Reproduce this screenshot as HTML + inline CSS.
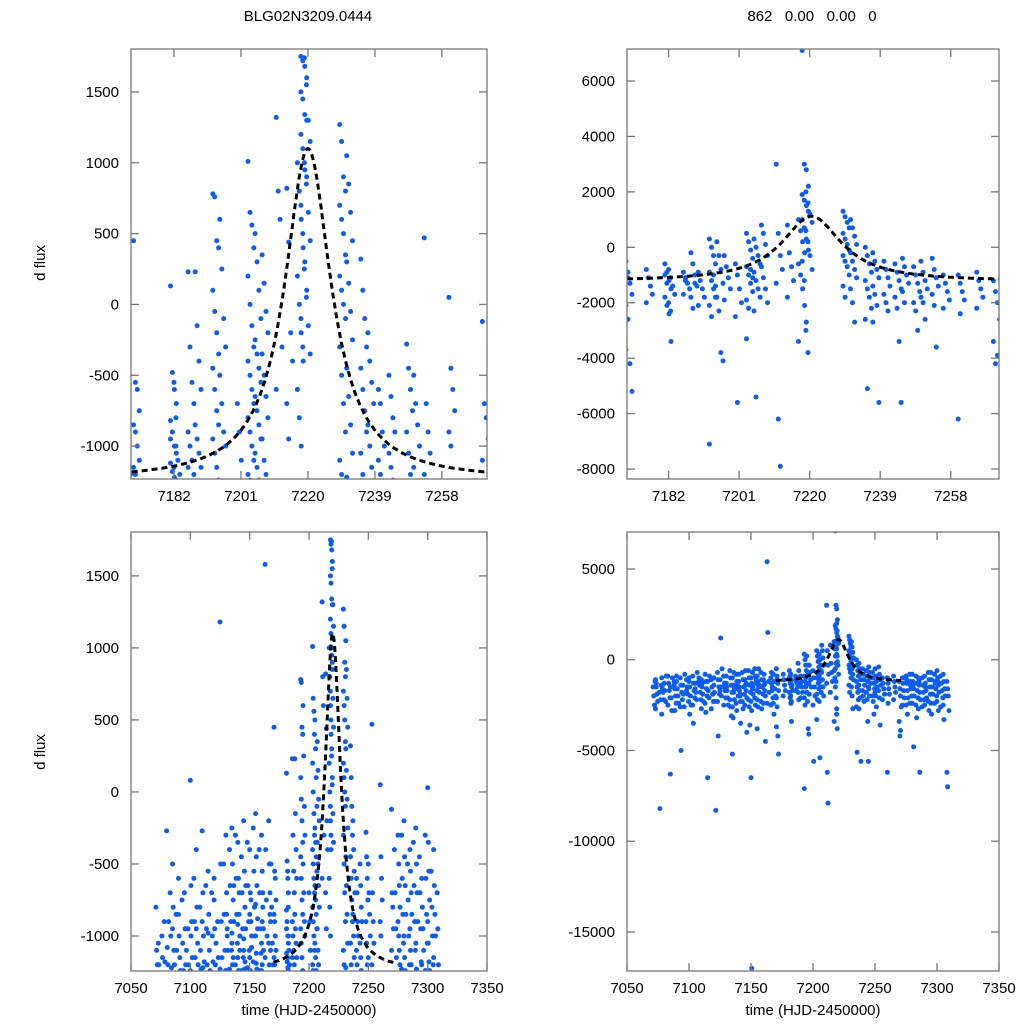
<!DOCTYPE html>
<html><head><meta charset="utf-8"><style>
html,body{margin:0;padding:0;background:#fff;}
svg{display:block;font-family:"Liberation Sans",sans-serif;}
</style></head><body>
<svg id="fig" width="1024" height="1024" viewBox="0 0 1024 1024">
<rect width="1024" height="1024" fill="#fff"/>
<text x="308" y="21" text-anchor="middle" font-size="15">BLG02N3209.0444</text>
<text x="812" y="21" text-anchor="middle" font-size="15" xml:space="preserve">862   0.00   0.00   0</text>
<text transform="translate(45,263) rotate(-90)" text-anchor="middle" font-size="15">d flux</text>
<text transform="translate(45,752) rotate(-90)" text-anchor="middle" font-size="15">d flux</text>
<text x="309" y="1015" text-anchor="middle" font-size="15">time (HJD-2450000)</text>
<text x="813" y="1015" text-anchor="middle" font-size="15">time (HJD-2450000)</text>
</svg>
<script>
// observation nights (HJD-2450000)
const nights = [7071,7076,7080,7085,7090,7095,7100,7105,7110,7115,7120,7125,7130,7135,7140,7145,7150,7155,7160,7163,7166,7170.5,7181,7182,7186,7188,7193,7195,7200,7203,7205,7207,7211,7214,7217,7218,7219,7229,7231,7235,7237,7240,7243,7248,7250,7253,7260,7269.5,7275,7280,7285,7290,7295,7300,7305,7308,
7073,7078,7083,7088,7093,7098,7103,7108,7113,7118,7123,7128,7133,7138,7143,7148,7153,7158,7168,7176,7190,7197,7245,7256,7265,7272,7278,7283,7288,7293,7298,7303];
// left series d flux per night
const leftFlux = [
[-800,-1100,-1200],[-1000,-1150],[-270,-1080,-1200,-900],[-500,-800,-1100,-1200,-950],
[-600,-1000,-1150,-1240,-850],[-700,-950,-1200,-1100],[80,-650,-900,-1150,-1240,-1000],
[-400,-800,-1050,-1200,-950],[-270,-700,-1000,-1180,-900,-1220],[-550,-850,-1100,-1240,-980],
[-600,-950,-1200,-1050,-750],[1180,-500,-900,-1150,-1230],[-300,-700,-950,-1100,-1240,-850,-1000],
[-250,-500,-750,-900,-1050,-1200,-1150,-650,-980],[-350,-600,-850,-1000,-1150,-1240,-700,-1100,-920],
[-200,-550,-800,-950,-1100,-1230,-1180,-650,-1020],[-400,-700,-900,-1000,-1150,-1240,-750,-1080,-850],
[-150,-450,-650,-880,-1000,-1120,-1230,-950,-780,-1190],[-300,-550,-800,-950,-1050,-1200,-700,-1100,-1240,-900],
[1580,-400,-750,-1000,-1150],[-200,-500,-700,-900,-1050,-1200,-850,-1100],
[450,-550,-600,-750,-850,-900,-1000,-1100,-1150,-1200],
[130,-480,-600,-700,-820,-900,-1000,-1050,-1120,-1180,-1220,-1240,-950],
[-550,-800,-1100,-1200,-1150,-1000],[230,-300,-550,-700,-900,-1000,-1100,-1200,-1150],
[230,-150,-400,-600,-850,-950,-1050,-1150],
[780,760,450,400,100,-50,-200,-350,-450,-600,-750,-850,-950,-1050,-1150,-1240],
[600,250,-100,-300,-500,-700,-900,-1000],[-700,-900,-1100],
[1010,650,560,400,200,0,-150,-300,-400,-500,-600,-700,-800,-900,-1000,-1100,-1200,-1240],
[500,300,100,-100,-250,-350,-450,-550,-650,-750,-850,-950,-1050,-1150,-1240],
[350,150,-50,-200,-350,-500,-650,-800,-950,-1100,-1200],
[1320,800,600,-300,-600],[820,440,-200,-400,-700,-950],
[1000,800,600,400,200,0,-200,-400,-600,-800,-1000],
[1750,1720,1680,1600,1500,1450,1340,1300,1200,1100,950,900,700,500,300,100,-100,-300],
[1740,1550,1300,1150,1000,850,650,450,250,50,-150,-350],
[1270,1150,900,800,700,600,500,350,200,100,0,-100,-300,-500,-700,-900,-1100,-1200],
[1050,850,650,450,300,150,-50,-250,-450,-650,-850,-1050,-1220],
[320,100,-100,-300,-450,-600,-750,-900,-1050,-1200],
[-200,-400,-550,-700,-850,-1000,-1150],[-600,-700,-900,-1000,-1100,-1200],
[-500,-650,-800,-900,-1050,-1150,-1240],[-280,-450,-600,-750,-900,-1050,-1200],
[-500,-700,-850,-1000,-1150],[470,-700,-900,-1050,-1200],[50,-450,-600,-750,-900,-1000],
[-120,-700,-800,-950,-1100],[-300,-500,-650,-800,-900,-1000,-1100,-1200],
[-200,-450,-650,-850,-1000,-1150,-1240],[-400,-550,-700,-850,-950,-1100,-1200],
[-250,-500,-700,-900,-1050,-1230],[-600,-800,-950,-1100,-1200],
[30,-350,-550,-750,-900,-1050,-1180,-1240],[-400,-650,-850,-1000,-1150],[-700,-950,-1200],
[-1050,-1200],[-900,-1180],[-700,-1000,-1220],[-850,-1100],[-750,-1050,-1240],[-950,-1200],
[-600,-900,-1150],[-800,-1100,-1230],[-650,-950,-1200],[-700,-1000,-1180],[-900,-1150],[-500,-850,-1100,-1240],
[-400,-650,-900,-1100,-1230],[-300,-600,-850,-1050,-1200],[-450,-700,-950,-1150,-1240],[-350,-650,-900,-1100,-1220],
[-250,-550,-800,-1000,-1180],[-400,-700,-950,-1120,-1240],[-500,-800,-1050,-1200],
[],[],[],[],[],[],
[-400,-700,-950,-1150],[-300,-600,-850,-1050,-1230],[-500,-750,-1000,-1200],[-350,-650,-900,-1100],
[-450,-700,-950,-1180],[-300,-600,-850,-1050,-1240],[-550,-800,-1000,-1200]
];
// right series d flux per night
const rightFlux = [
[-1500,-2000,-2500,-1200],[-1800,-8200,-2200,-1400],[-1300,-1700,-2300,-900],[-1500,-2100,-2800,-1000,-6300],
[-1200,-1600,-2000,-2400,-900],[-1400,-1900,-2600,-800],[-1000,-1500,-2000,-2500,-1200,-3000],
[-1300,-1800,-2200,-700,-1600],[-1100,-1500,-1900,-2300,-2700,-1300],[-1200,-1700,-2100,-900,-6500],
[-1400,-1800,-2300,-8300,-1000],[-1100,-1500,-2000,-500,-1700,1200],[-1300,-1700,-2100,-2500,-900,-1500],
[-1000,-1400,-1800,-2200,-2600,-3200,-700,-1600,-5200],[-1200,-1500,-1900,-2300,-800,-1700,-2000,-3500],
[-1100,-1400,-1700,-2100,-2500,-600,-1300,-4000],[-1000,-1300,-1600,-1900,-2300,-2800,-700,-1500,-6500,-17000],
[-900,-1200,-1500,-1800,-2200,-2600,-500,-1400,-3800],[-1100,-1400,-1700,-2000,-2400,-800,-1300,-4500],
[5400,1500,-1200,-1800,-2400],[-1000,-1300,-1700,-2100,-2500,-700,-1500],
[-500,-900,-1300,-1700,-2100,-2600,-4200,-5200,-3700,-1100],
[-600,-900,-1200,-1500,-1800,-2100,-2400,-3400,-1000,-1300],[-800,-1100,-1400,-1700,-2000,-2300],
[-900,-1100,-1300,-1500,-1700,-1200],[-200,-600,-1000,-1400,-1800,-2200,-1300],
[300,0,-300,-600,-900,-1200,-1500,-1800,-2100,-2500,-1000,-1400,-7100],
[200,-300,-800,-1300,-1800,-2300,-3800,-4100],[-600,-1000,-1500,-2000,-2500,-5600],
[500,200,-100,-400,-700,-1000,-1300,-1600,-1900,-2200,-800,-1100,-3300],
[300,0,-300,-600,-900,-1200,-1500,-1800,-2300,-5400],
[800,500,100,-300,-700,-1100,-1500,-2000],[3000,500,-300,-800,-1300,-6200,-7900],
[800,-200,-700,-1200,-1800],[1000,600,200,-200,-600,-1000,-1500,-2100,-3400],
[7100,3000,2800,2200,1900,1700,1500,1300,1000,700,300,-100,-500,-1200,-2700],
[2000,1600,1200,900,600,200,-300,-800,-3000,-3800],
[1300,1100,900,700,500,300,100,-100,-300,-500,-700,-1000,-1400,-1800],
[1000,700,400,100,-200,-500,-800,-1100,-1500,-2000,-2700],
[0,-300,-600,-900,-1200,-1500,-1800,-2200,-2600,-5100],
[-200,-500,-800,-1100,-1400,-1700,-2100,-5600,-2700],[-500,-800,-1100,-1400,-1700,-2000,-2300],
[-600,-900,-1200,-1500,-1800,-2200,-3400,-5600],[-700,-1000,-1300,-1600,-2000,-2300,-3000],
[-500,-900,-1200,-1500,-1800,-2000,-2600],[-400,-800,-1100,-1400,-1700,-2100,-3600],
[-1000,-1300,-1600,-1900,-6200,-2400],[-1200,-1600,-2000,-2600,-3400,-4200,-3900],
[-900,-1300,-1700,-2100,-2500,-1100,-3000],[-800,-1200,-1600,-2000,-2400,-1400,-4800],
[-1000,-1400,-1800,-2200,-2700,-1200,-6200],[-900,-1300,-1700,-2100,-2500,-1500],
[-700,-1100,-1500,-1900,-2400,-3000],[-600,-1000,-1400,-1800,-2300,-1200,-2800],
[-800,-1200,-1600,-2000,-2500,-3300],[-1200,-1600,-2000,-2800,-6200,-7000],
[-1100,-1500,-1900,-2300,-2700,-1300],[-1000,-1400,-1800,-2200,-3000,-1600],[-900,-1300,-1700,-2100,-2500],
[-1200,-1600,-2000,-2400,-1400,-2800],[-1000,-1400,-1800,-2200,-2600,-5000],[-1100,-1500,-1900,-2300,-1700],
[-900,-1300,-1700,-2100,-2500,-3500],[-1000,-1400,-1800,-2200,-1200],[-800,-1200,-1600,-2000,-2400,-2900],
[-1100,-1500,-1900,-2300,-2700],[-700,-1100,-1500,-1900,-2300,-4200],[-900,-1300,-1700,-2100,-2500,-1500],
[-600,-1000,-1400,-1800,-2200,-2600,-3100],[-800,-1200,-1600,-2000,-2400,-2800,-1400],[-700,-1100,-1500,-1900,-2300,-2700],
[-600,-1000,-1400,-1800,-2200,-2600,-3600],[-500,-900,-1300,-1700,-2100,-2500,-1100],[-700,-1100,-1500,-1900,-2300,-2700],
[-800,-1200,-1600,-2000,-2400,-3000],[-800,-1100,-1400,-1700,-2000],[-900,-1200,-1500,-1800,-2100],[-300,-700,-1100,-1500,-1900],
[-400,-700,-1000,-1300,-1600,-2000],[-1000,-1300,-1600,-1900,-2200],[-900,-1200,-1500,-1800,-2200],[-1000,-1300,-1700,-2100,-2500],
[-800,-1200,-1600,-2000,-2400,-1400],[-900,-1300,-1700,-2100,-2500,-3200],[-1000,-1400,-1800,-2200,-2600],
[-700,-1100,-1500,-1900,-2300,-2800],[-800,-1200,-1600,-2000,-2400,-1300],[-900,-1300,-1700,-2100,-2600]
];
// model parameters: [t0, baseline, amplitude, width]
const leftModel = [7220, -1240, 2340, 8];
const rightModel = [7220.5, -1230, 2350, 9.8];
const topXTicks = [7182,7201,7220,7239,7258];
const bottomXTicks = [7050,7100,7150,7200,7250,7300,7350];
const leftYTicks = [1500,1000,500,0,-500,-1000];
const topRightYTicks = [6000,4000,2000,0,-2000,-4000,-6000,-8000];
const bottomRightYTicks = [5000,0,-5000,-10000,-15000];

const NS='http://www.w3.org/2000/svg';
const svg=document.getElementById('fig');
function mk(tag,attrs,parent){const e=document.createElementNS(NS,tag);for(const k in attrs)e.setAttribute(k,attrs[k]);(parent||svg).appendChild(e);return e;}
function model(p,t){const u=(t-p[0])/p[3];return p[1]+p[2]/(1+u*u);}

function panel(id,box,xd,yd,xt,yt,flux,mp){
  const [L,T,R,B]=box;
  const sx=v=>L+(v-xd[0])/(xd[1]-xd[0])*(R-L);
  const sy=v=>B-(v-yd[0])/(yd[1]-yd[0])*(B-T);
  const g=mk('g',{});
  
  
  const cp=mk('clipPath',{id:id+'-clip'},g);
  mk('rect',{x:L,y:T,width:R-L,height:B-T},cp);
  const pts=mk('g',{'clip-path':'url(#'+id+'-clip)'},g);
  
  
  nights.forEach((t,i)=>{
    flux[i].forEach((f,k)=>{
      const tt=t+(k%4)*0.55;
      const c=mk('circle',{cx:sx(tt).toFixed(1),cy:sy(f).toFixed(1),r:2.5,fill:'#0a5cf5'},pts);
      
      
    });
  });
  let d='';const t0=Math.max(7170,xd[0]),t1=Math.min(7271,xd[1]);
  for(let t=t0;t<=t1;t+=0.25){d+=(d?'L':'M')+sx(t).toFixed(1)+','+sy(model(mp,t)).toFixed(1);}
  const ln=mk('path',{d:d,fill:'none',stroke:'#000','stroke-width':3,'stroke-dasharray':'6,4'},pts);
  
  
  const fr=mk('rect',{x:L,y:T,width:R-L,height:B-T,fill:'none',stroke:'#777','stroke-width':1.3},g);
  
  
  xt.forEach(v=>{const x=sx(v);
    mk('line',{x1:x,y1:B,x2:x,y2:B-8,stroke:'#777','stroke-width':1.3},g);
    mk('line',{x1:x,y1:T,x2:x,y2:T+8,stroke:'#777','stroke-width':1.3},g);
    const tx=mk('text',{x:x,y:B+22,'text-anchor':'middle','font-size':15},g);tx.textContent=v;
    
    
  });
  yt.forEach(v=>{const y=sy(v);
    mk('line',{x1:L,y1:y,x2:L+8,y2:y,stroke:'#777','stroke-width':1.3},g);
    mk('line',{x1:R,y1:y,x2:R-8,y2:y,stroke:'#777','stroke-width':1.3},g);
    const tx=mk('text',{x:L-12,y:y+5,'text-anchor':'end','font-size':15},g);tx.textContent=v;
    
    
  });
}
panel('top-left',[131,49,487,479],[7169.8,7270.8],[-1232,1803],topXTicks,leftYTicks,leftFlux,leftModel);
panel('top-right',[627,49,999,479],[7170.8,7271],[-8360,7155],topXTicks,topRightYTicks,rightFlux,rightModel);
panel('bottom-left',[131,532,487,971],[7050,7350],[-1243,1805],bottomXTicks,leftYTicks,leftFlux,leftModel);
panel('bottom-right',[627,532,999,971],[7050,7350],[-17150,7039],bottomXTicks,bottomRightYTicks,rightFlux,rightModel);
</script>
</body></html>
